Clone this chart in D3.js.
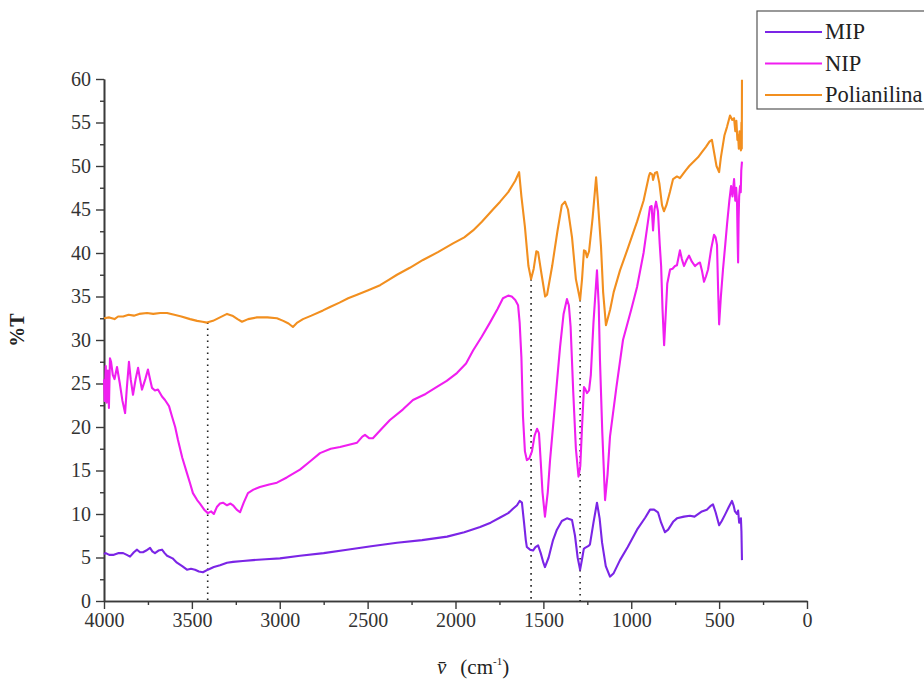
<!DOCTYPE html>
<html>
<head>
<meta charset="utf-8">
<script src="https://cdn.jsdelivr.net/npm/d3@7"></script>
<style>
  html, body { margin: 0; padding: 0; background: #fff; overflow: hidden; }
  svg { display: block; }
  text { font-family: "Liberation Serif", "Times New Roman", serif; }
</style>
</head>
<body>
<svg id="chart" width="924" height="685"></svg>
<script>
// FTIR spectra: wavenumber (cm^-1) vs transmittance (%T)
const seriesNames = ["MIP", "NIP", "Polianilina"];
const seriesColors = ["#7b25e6", "#f01ef0", "#f28f1f"];

const mipData = [
  [4000,5.4],[3990,5.5],[3970,5.3],[3948,5.3],[3920,5.5],[3891,5.5],[3870,5.3],[3852,5.1],[3830,5.6],[3812,5.9],
  [3795,5.6],[3778,5.6],[3760,5.8],[3738,6.1],[3725,5.7],[3710,5.5],[3690,5.8],[3670,5.9],[3655,5.5],[3641,5.2],
  [3610,4.9],[3585,4.4],[3555,4.0],[3528,3.6],[3505,3.7],[3482,3.6],[3460,3.4],[3437,3.3],[3409,3.6],[3375,3.9],
  [3340,4.1],[3300,4.4],[3266,4.5],[3210,4.6],[3152,4.7],[3080,4.8],[2999,4.9],[2885,5.2],[2750,5.5],[2617,5.9],
  [2480,6.3],[2333,6.7],[2190,7.0],[2048,7.4],[1950,7.9],[1860,8.5],[1800,9.0],[1746,9.6],[1700,10.1],[1673,10.6],
  [1650,11.0],[1635,11.5],[1622,11.3],[1610,9.0],[1600,7.0],[1594,6.2],[1576,5.9],[1559,5.8],[1545,6.2],[1530,6.4],
  [1515,5.5],[1500,4.4],[1491,3.9],[1470,5.0],[1445,7.0],[1423,8.2],[1395,9.2],[1366,9.5],[1337,9.3],[1320,7.5],
  [1305,5.0],[1291,3.6],[1280,4.8],[1270,6.0],[1263,6.1],[1245,6.3],[1235,6.5],[1215,9.0],[1195,11.3],[1180,9.5],
  [1166,6.7],[1145,4.0],[1121,2.8],[1100,3.2],[1064,4.7],[1020,6.2],[967,8.2],[920,9.6],[893,10.5],[870,10.5],
  [848,10.2],[830,9.0],[808,7.9],[790,8.2],[762,9.1],[740,9.5],[700,9.7],[666,9.8],[640,9.7],[598,10.3],
  [570,10.5],[550,10.9],[535,11.1],[520,10.2],[500,8.7],[485,9.2],[467,9.9],[445,10.8],[427,11.5],[418,11.0],
  [410,10.3],[398,10.0],[392,10.4],[386,9.0],[381,9.2],[376,9.5],[373,8.0],[370,4.7]
];

const nipData = [
  [4000,25.5],[3996,23.0],[3990,27.0],[3985,22.8],[3978,26.5],[3972,22.2],[3966,27.9],[3960,27.5],[3950,26.0],[3940,25.5],
  [3926,26.9],[3910,25.0],[3895,23.0],[3880,21.6],[3870,24.5],[3858,27.5],[3848,25.5],[3835,23.7],[3820,25.5],[3806,26.8],
  [3795,25.5],[3784,24.3],[3765,25.5],[3750,26.6],[3738,25.5],[3727,24.5],[3710,24.2],[3693,24.3],[3670,23.5],[3653,23.1],
  [3630,22.4],[3613,21.2],[3595,20.0],[3579,18.5],[3555,16.5],[3528,14.7],[3510,13.5],[3494,12.4],[3470,11.6],[3454,11.2],
  [3430,10.5],[3409,10.1],[3390,10.3],[3375,10.0],[3358,10.8],[3340,11.2],[3323,11.3],[3300,11.0],[3280,11.2],[3266,11.0],
  [3245,10.5],[3226,10.2],[3205,11.3],[3181,12.4],[3150,12.8],[3113,13.1],[3060,13.4],[3016,13.6],[2960,14.2],[2885,15.1],
  [2830,16.0],[2771,17.0],[2710,17.5],[2657,17.7],[2600,18.0],[2560,18.2],[2530,18.9],[2515,19.1],[2490,18.7],[2470,18.7],
  [2420,19.8],[2373,20.8],[2300,22.0],[2242,23.1],[2170,23.8],[2106,24.6],[2050,25.3],[1992,26.2],[1940,27.3],[1900,28.8],
  [1850,30.4],[1804,32.0],[1760,33.6],[1730,34.8],[1700,35.1],[1680,35.0],[1660,34.6],[1644,34.0],[1635,32.0],[1625,28.0],
  [1616,21.2],[1605,17.2],[1594,16.2],[1580,16.4],[1565,17.2],[1550,19.0],[1536,19.8],[1525,19.3],[1515,16.0],[1505,12.5],
  [1491,9.7],[1475,12.5],[1462,16.2],[1430,23.5],[1405,29.2],[1385,33.0],[1366,34.7],[1355,34.0],[1345,31.5],[1330,24.0],
  [1315,17.5],[1300,14.3],[1290,15.5],[1280,20.0],[1269,24.6],[1260,24.3],[1252,23.9],[1240,24.2],[1230,26.0],[1215,32.0],
  [1195,38.0],[1185,34.0],[1178,27.7],[1165,19.5],[1149,11.6],[1135,14.5],[1121,18.9],[1085,24.5],[1047,30.0],[1000,33.5],
  [967,36.1],[930,40.0],[893,45.3],[884,45.4],[876,42.6],[868,45.0],[859,45.9],[848,44.8],[838,41.0],[830,38.5],
  [822,33.5],[813,29.4],[805,32.5],[795,36.5],[779,38.1],[765,38.2],[751,38.5],[740,38.6],[723,40.3],[712,39.3],
  [700,38.5],[685,39.2],[671,39.7],[655,39.0],[637,38.5],[620,38.8],[609,38.9],[598,38.0],[586,36.7],[575,37.3],
  [563,38.1],[545,40.5],[529,42.1],[520,41.8],[512,40.9],[506,36.0],[500,31.8],[490,35.0],[478,38.1],[465,41.0],
  [455,43.3],[442,46.0],[432,47.7],[424,46.5],[415,48.5],[408,46.0],[403,47.5],[398,45.7],[395,42.0],[392,38.9],
  [389,44.0],[386,46.5],[381,47.7],[377,47.0],[374,49.5],[370,50.5]
];

const paniData = [
  [4000,32.5],[3970,32.6],[3940,32.4],[3920,32.7],[3891,32.7],[3860,32.9],[3830,32.8],[3800,33.0],[3755,33.1],[3720,33.0],
  [3680,33.1],[3641,33.1],[3600,32.9],[3560,32.7],[3510,32.4],[3470,32.2],[3440,32.1],[3414,32.0],[3380,32.2],[3340,32.6],
  [3300,33.0],[3270,32.8],[3240,32.4],[3215,32.1],[3180,32.4],[3130,32.6],[3070,32.6],[3016,32.5],[2980,32.2],[2950,31.9],
  [2925,31.5],[2900,32.0],[2868,32.4],[2820,32.8],[2754,33.4],[2714,33.8],[2660,34.3],[2611,34.8],[2560,35.2],[2500,35.7],
  [2429,36.3],[2380,36.9],[2333,37.5],[2260,38.3],[2185,39.2],[2100,40.1],[2014,41.1],[1950,41.8],[1900,42.6],[1850,43.6],
  [1787,45.0],[1746,45.9],[1700,47.0],[1660,48.3],[1638,49.3],[1625,46.5],[1605,43.0],[1585,38.5],[1570,37.0],[1555,38.2],
  [1540,40.2],[1530,40.1],[1510,37.5],[1490,35.0],[1479,35.2],[1450,38.5],[1420,42.5],[1395,45.5],[1377,45.9],[1360,45.0],
  [1337,41.8],[1315,37.0],[1291,34.6],[1280,37.0],[1269,40.3],[1260,40.2],[1252,39.5],[1240,40.2],[1220,44.0],[1200,48.7],
  [1190,46.0],[1172,40.7],[1160,35.5],[1144,31.7],[1120,33.5],[1100,35.5],[1064,38.0],[1020,40.5],[967,43.6],[930,46.0],
  [900,48.8],[893,49.2],[880,49.0],[876,48.4],[865,49.2],[853,49.3],[840,48.0],[825,45.5],[814,44.8],[800,45.5],
  [780,47.0],[762,48.5],[740,48.8],[723,48.6],[705,49.1],[690,49.5],[670,50.0],[640,50.6],[620,51.0],[598,51.6],
  [575,52.2],[555,52.8],[541,53.0],[528,51.5],[515,50.0],[500,49.3],[490,51.0],[470,53.5],[455,54.5],[438,55.8],
  [425,55.3],[415,55.5],[408,54.0],[402,55.2],[396,53.0],[392,53.5],[388,52.0],[384,54.0],[380,52.5],[376,51.8],
  [373,55.0],[371,52.0],[370,59.9]
];

// band positions marked with dotted guides (cm^-1)
const guideBands = [3410, 1570, 1291];

const xTicks = [4000, 3500, 3000, 2500, 2000, 1500, 1000, 500, 0];
const yTicks = [0, 5, 10, 15, 20, 25, 30, 35, 40, 45, 50, 55, 60];

const serif = "'Liberation Serif', 'Times New Roman', serif";
const svg = d3.select("#chart");
svg.append("rect").attr("width", 924).attr("height", 685).attr("fill", "#fff");

const x = d3.scaleLinear().domain([4000, 0]).range([104, 807]);
const y = d3.scaleLinear().domain([0, 60]).range([601, 79]);

const axisColor = "#3a3a3a";

function styleAxis(g) {
  g.selectAll("g").attr("font-family", null);
  g.selectAll("path.domain").attr("stroke", axisColor).attr("stroke-width", 1.6);
  g.selectAll("line").attr("stroke", axisColor).attr("stroke-width", 1.4);
  g.selectAll("text").style("font-family", serif).style("font-size", "20px").attr("fill", "#333");
}

// x axis
const xMinor = d3.range(4000, -1, -250).filter(v => v % 500 !== 0);
const gx = svg.append("g").attr("transform", `translate(0,${y(0)})`);
gx.append("g").call(d3.axisBottom(x).tickValues(xMinor).tickSize(4).tickSizeOuter(0).tickFormat(""));
gx.append("g").call(d3.axisBottom(x).tickValues(xTicks).tickSize(8).tickSizeOuter(0).tickPadding(4).tickFormat(d3.format("d")));
styleAxis(gx);

// y axis
const yMinor = d3.range(2.5, 60, 5);
const gy = svg.append("g").attr("transform", `translate(${x(4000)},0)`);
gy.append("g").call(d3.axisLeft(y).tickValues(yMinor).tickSize(4).tickSizeOuter(0).tickFormat(""));
gy.append("g").call(d3.axisLeft(y).tickValues(yTicks).tickSize(8).tickSizeOuter(0).tickPadding(5).tickFormat(d3.format("d")));
styleAxis(gy);

// dotted guides from the polyaniline band down to the baseline
const paniAt = wn => {
  const i = d3.bisector(d => -d[0]).left(paniData, -wn);
  const a = paniData[Math.max(0, i - 1)], b = paniData[Math.min(paniData.length - 1, i)];
  if (a[0] === b[0]) return a[1];
  return a[1] + (b[1] - a[1]) * (wn - a[0]) / (b[0] - a[0]);
};
svg.append("g").selectAll("line").data(guideBands).join("line")
  .attr("x1", d => x(d)).attr("x2", d => x(d))
  .attr("y1", d => y(paniAt(d))).attr("y2", y(0))
  .attr("stroke", "#222").attr("stroke-width", 1.6)
  .attr("stroke-dasharray", "1.6,4.4");

// spectra
const line = d3.line().x(d => x(d[0])).y(d => y(d[1]));
const allSeries = [mipData, nipData, paniData];
svg.append("g").selectAll("path").data(allSeries).join("path")
  .attr("d", line)
  .attr("fill", "none")
  .attr("stroke", (d, i) => seriesColors[i])
  .attr("stroke-width", 2.1)
  .attr("stroke-linejoin", "round");

// axis titles
svg.append("text")
  .attr("transform", "translate(24,330) rotate(-90)")
  .attr("text-anchor", "middle")
  .style("font-family", serif).style("font-size", "20px").style("font-weight", "bold")
  .attr("fill", "#222")
  .text("%T");

const xt = svg.append("text").attr("x", 437).attr("y", 674)
  .style("font-family", serif).style("font-size", "21px").attr("fill", "#222");
xt.append("tspan").attr("font-style", "italic").text("v\u0304");
xt.append("tspan").attr("dx", 14).text("(cm");
xt.append("tspan").attr("dy", -9).style("font-size", "11px").text("-1");
xt.append("tspan").attr("dy", 9).text(")");

// legend
const lg = svg.append("g");
lg.append("rect").attr("x", 757).attr("y", 11).attr("width", 200).attr("height", 98)
  .attr("fill", "#fff").attr("stroke", "#555").attr("stroke-width", 1.2);
const rowY = [32, 63.5, 95];
seriesNames.forEach((name, i) => {
  lg.append("line").attr("x1", 765).attr("x2", 822).attr("y1", rowY[i]).attr("y2", rowY[i])
    .attr("stroke", seriesColors[i]).attr("stroke-width", 2);
  lg.append("text").attr("x", 825).attr("y", rowY[i] + 7)
    .style("font-family", serif).style("font-size", "22.5px").attr("fill", "#222").text(name);
});
</script>
</body>
</html>
